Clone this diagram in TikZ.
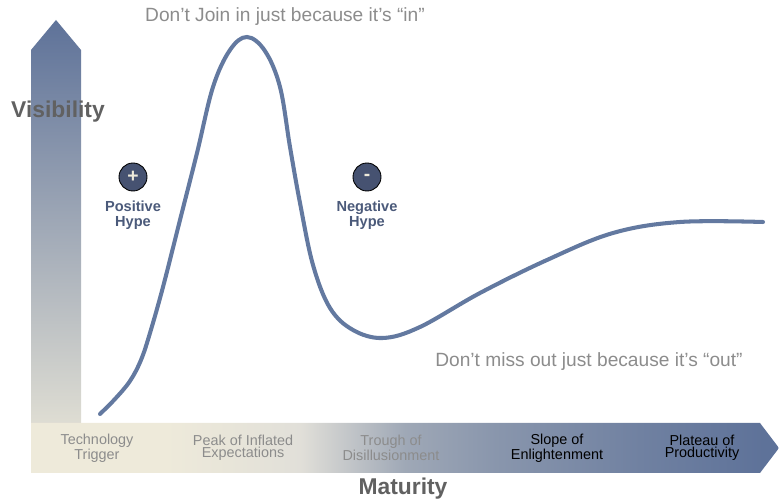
\documentclass[tikz,border=0pt]{standalone}
\usepackage{fontspec}
\setmainfont{Liberation Sans}
\usepackage{xcolor}
\usetikzlibrary{positioning}
\definecolor{hypeblue}{HTML}{5E7299}
\definecolor{hypebeige}{HTML}{EEEADA}
\definecolor{curveblue}{HTML}{6379A0}
\definecolor{dotnavy}{HTML}{465271}
\definecolor{labelgray}{HTML}{8C8C8C}
\definecolor{axisgray}{HTML}{616161}
\definecolor{hypetext}{HTML}{4B5A7A}

% beige on the left, blue towards the arrow tip
\pgfdeclarehorizontalshading{maturityshade}{100bp}{color(0bp)=(hypebeige); color(34bp)=(hypebeige);
  color(43bp)=(hypebeige!70!gray!60); color(50bp)=(hypebeige!45!hypeblue); color(56bp)=(hypebeige!30!hypeblue);
  color(66bp)=(hypebeige!12!hypeblue); color(74bp)=(hypeblue); color(100bp)=(hypeblue)}

\begin{document}
\begin{tikzpicture}[
    x=0.02cm, y=-0.02cm,
    hypecurve/.style={draw=curveblue, line width=2.3pt, line cap=round},
    hypedot/.style={circle, draw=black, line width=0.5pt, fill=dotnavy, minimum size=0.56cm, inner sep=0pt, text=hypebeige, font=\bfseries\fontsize{11}{11}\selectfont},
    hypelabel/.style={align=center, inner sep=0pt, text=hypetext, font=\bfseries\fontsize{8.3}{8.6}\selectfont},
    stagelabel/.style={align=center, inner sep=0pt, text=labelgray, font=\fontsize{8.2}{7}\selectfont},
    quote/.style={inner sep=0pt, text=labelgray, font=\fontsize{10.9}{12}\selectfont},
    axislabel/.style={inner sep=0pt, text=axisgray, font=\bfseries\fontsize{13}{15}\selectfont}
]
\useasboundingbox (0,0) rectangle (779,502);

% the two axes
\path[top color=hypeblue, bottom color=hypebeige] (31,473) -- (31,50) -- (56,20) -- (81,50) -- (81,473) -- cycle;
\path[shading=maturityshade] (31,423) -- (760,423) -- (779,448) -- (760,473) -- (31,473) -- cycle;

% hype cycle
\draw[hypecurve] plot[smooth, tension=0.6] coordinates {(100,414) (115,399) (130,381) (141,360) (150,333)
  (163,287) (180,220) (197,153) (213,87) (230,50) (247,37) (265,51) (280,87) (290,147) (300,203) (313,265)
  (330,308) (353,330) (383,338) (420,327) (480,293) (547,260) (613,233) (680,222) (763,222)};

\node[quote, anchor=base] (joinin) at (285,22) {Don’t Join in just because it’s “in”};
\node[quote, anchor=base] (missout) at (589,367) {Don’t miss out just because it’s “out”};

\node[hypedot] (plus) at (133,177) {+};
\node[hypelabel, below=5pt of plus] (positive) {Positive\\Hype};
\node[hypedot] (minus) at (367,177) {-};
\node[hypelabel, below=5pt of minus] (negative) {Negative\\Hype};

\node[axislabel, anchor=base] (visibility) at (58,118) {Visibility};
\node[axislabel, anchor=base] (maturity) at (403,495) {Maturity};

% stages along the maturity axis
\node[stagelabel] (trigger) at (97,448) {Technology\\Trigger};
\node[stagelabel] (peak) at (243,448) {Peak of Inflated\\Expectations};
\node[stagelabel] (trough) at (391,448) {Trough of\\Disillusionment};
\node[stagelabel, text=black] (slope) at (557,448) {Slope of\\Enlightenment};
\node[stagelabel, text=black] (plateau) at (702,448) {Plateau of\\Productivity};

\end{tikzpicture}
\end{document}
